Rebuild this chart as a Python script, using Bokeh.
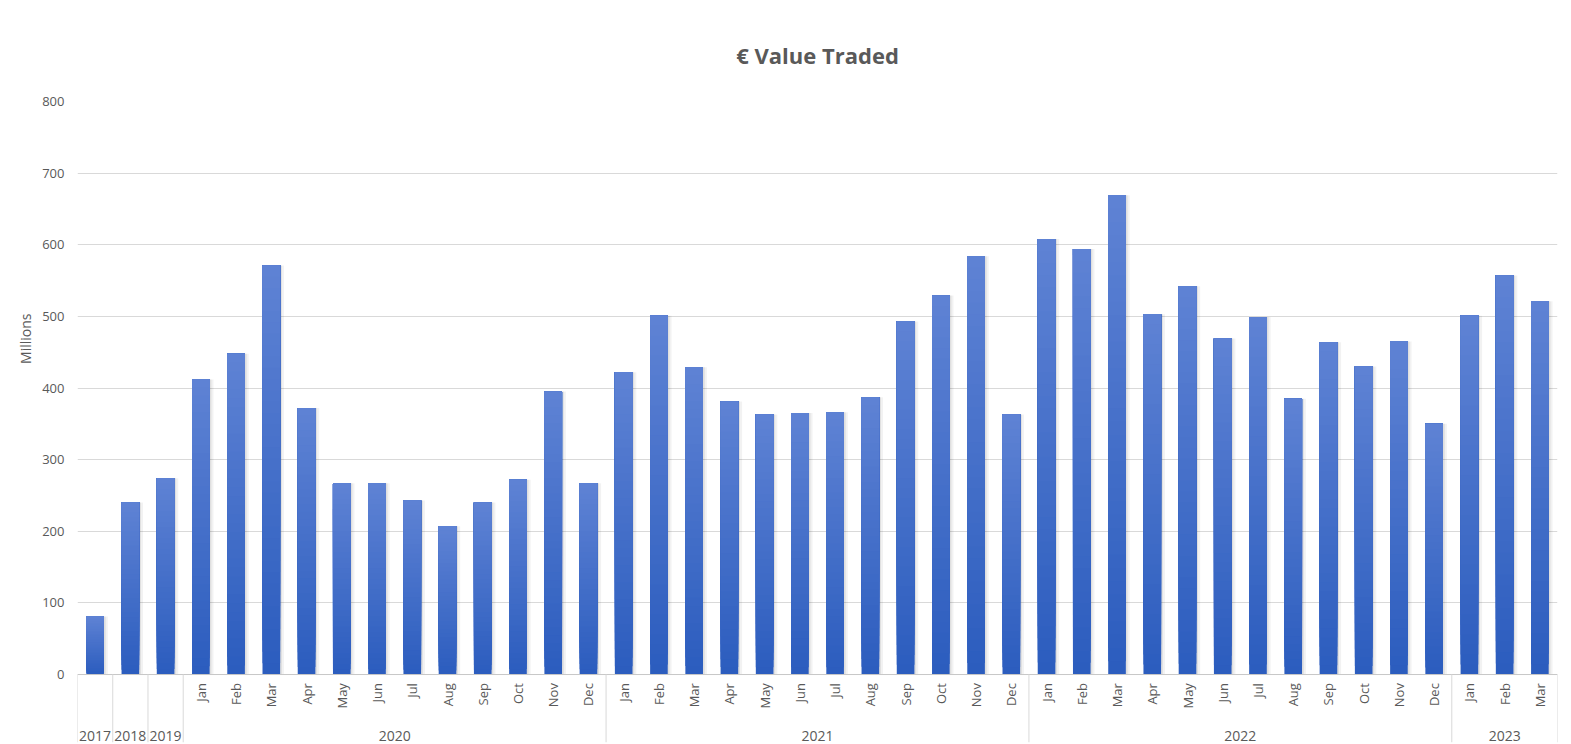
import numpy as np
from bokeh.plotting import figure
from bokeh.models import Range1d, FixedTicker, ColumnDataSource, Title
from bokeh.core.properties import value
from bokeh.embed import file_html
from bokeh.resources import INLINE

# ---------------- data ----------------
annual_years = ["2017", "2018", "2019"]
annual_values = [81, 240, 274]

month_names = ["Jan", "Feb", "Mar", "Apr", "May", "Jun",
               "Jul", "Aug", "Sep", "Oct", "Nov", "Dec"]

monthly_years = ["2020", "2021", "2022", "2023"]
values_2020 = [412, 448, 571, 372, 267, 267, 243, 207, 240, 272, 395, 267]
values_2021 = [422, 501, 429, 381, 363, 365, 366, 387, 493, 529, 584, 363]
values_2022 = [608, 594, 669, 503, 542, 469, 499, 385, 464, 430, 465, 350]
values_2023 = [501, 557, 521]

y_ticks = [0, 100, 200, 300, 400, 500, 600, 700, 800]

title_text = "€ Value Traded"
y_label = "Millions"

# ---------------- build category table ----------------
monthly_values = [values_2020, values_2021, values_2022, values_2023]
cat_year, cat_month, vals = [], [], []
for yr, v in zip(annual_years, annual_values):
    cat_year.append(yr); cat_month.append(""); vals.append(v)
for yr, vs in zip(monthly_years, monthly_values):
    for m, v in zip(month_names, vs):
        cat_year.append(yr); cat_month.append(m); vals.append(v)

n = len(vals)
xs = np.arange(n) + 0.5
vals = np.array(vals, dtype=float)

groups = []
start = 0
for i in range(1, n + 1):
    if i == n or cat_year[i] != cat_year[start]:
        groups.append((cat_year[start], start, i))
        start = i
boundaries = sorted(set([g[1] for g in groups] + [g[2] for g in groups]))

FONT = "Open Sans"
GREY = "#595959"
LINE = "#d9d9d9"
Y_LOW = -94.9

p = figure(width=1571, height=744,
           x_range=Range1d(0, n), y_range=Range1d(Y_LOW, 800),
           x_axis_location=None,
           output_backend="svg", toolbar_location=None,
           min_border_left=77, min_border_right=14,
           min_border_top=101, min_border_bottom=2)
p.outline_line_color = None
p.background_fill_color = "white"
p.border_fill_color = "white"

# title
p.title.text = title_text
p.title.align = "center"
p.title.text_font = FONT
p.title.text_font_size = "22px"
p.title.text_font_style = "bold"
p.title.text_color = GREY
p.title.standoff = 64

# grid / y axis
p.xgrid.visible = False
p.ygrid.ticker = FixedTicker(ticks=y_ticks)
p.ygrid.grid_line_color = LINE
p.ygrid.grid_line_width = 1

ax = p.yaxis[0]
ax.ticker = FixedTicker(ticks=y_ticks)
ax.axis_line_color = None
ax.major_tick_line_color = None
ax.minor_tick_line_color = None
ax.major_tick_out = 0
ax.major_tick_in = 0
ax.major_label_text_color = GREY
ax.major_label_text_font = FONT
ax.major_label_text_font_size = "13px"
ax.major_label_standoff = 13

# y-axis title, placed above the frame centre as in the original
p.add_layout(Title(text=y_label, align="right", offset=212, standoff=10,
                   text_font=FONT, text_font_size="14px",
                   text_font_style="normal", text_color=GREY), "left")

# bar shadows
bar_w = 0.5
p.vbar(x=xs + 0.09, top=vals, bottom=0, width=bar_w + 0.04,
       fill_color="#000000", fill_alpha=0.05, line_color=None)
p.vbar(x=xs + 0.05, top=vals, bottom=0, width=bar_w,
       fill_color="#000000", fill_alpha=0.08, line_color=None)

# gradient bars (per-bar vertical gradient: darker bottom, lighter top)
K = 36
bottom_rgb = np.array([44, 93, 190])
top_rgb = np.array([94, 130, 212])
qx0, qx1, qb, qt, qc = [], [], [], [], []
for k in range(K):
    t = k / (K - 1)
    c = (bottom_rgb * (1 - t) + top_rgb * t).round().astype(int)
    col = "#%02x%02x%02x" % tuple(c)
    for xi, v in zip(xs, vals):
        qx0.append(xi - bar_w / 2); qx1.append(xi + bar_w / 2)
        qb.append(v * k / K); qt.append(v)
        qc.append(col)
src = ColumnDataSource(dict(left=qx0, right=qx1, bottom=qb, top=qt, color=qc))
p.quad(left="left", right="right", bottom="bottom", top="top",
       fill_color="color", line_color=None, source=src)

# zero line
p.segment(x0=[0], y0=[0], x1=[n], y1=[0], line_color="#c8c8c8", line_width=1)

# category separators
p.segment(x0=boundaries, y0=[0] * len(boundaries), x1=boundaries,
          y1=[Y_LOW] * len(boundaries), line_color=LINE, line_width=1)

# month labels (rotated)
mi = [i for i in range(n) if cat_month[i]]
p.text(x=[xs[i] for i in mi], y=[-12] * len(mi), text=[cat_month[i] for i in mi],
       angle=np.pi / 2, text_align="right", text_baseline="middle",
       text_font=value(FONT), text_font_size="13px", text_color=GREY)

# year/group labels
p.text(x=[(g[1] + g[2]) / 2 for g in groups], y=[-85.2] * len(groups),
       text=[g[0] for g in groups], text_align="center", text_baseline="alphabetic",
       text_font=value(FONT), text_font_size="14px", text_color=GREY)

open("out.html", "w").write(file_html(p, INLINE))
